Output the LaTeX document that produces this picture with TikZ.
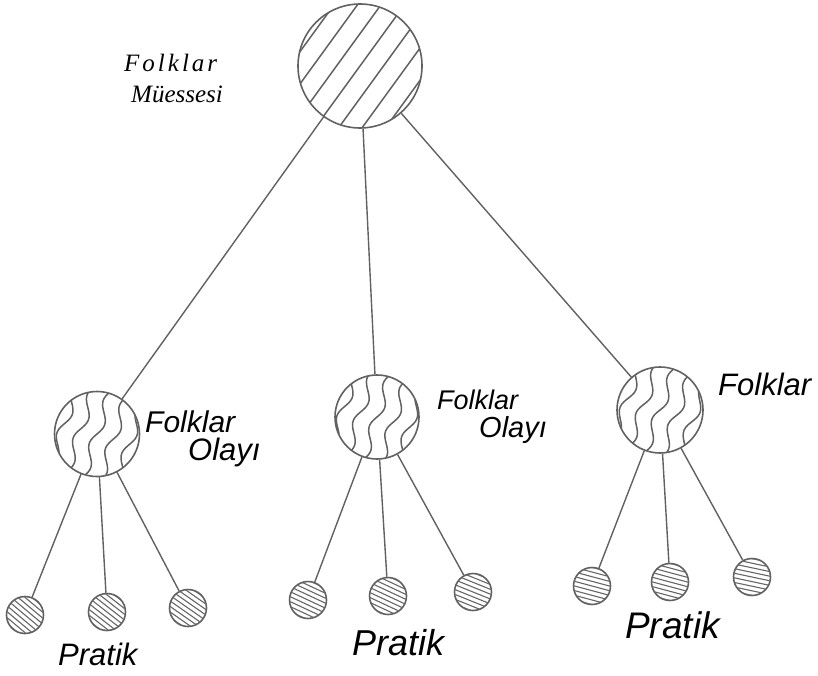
\documentclass[tikz,border=0pt]{standalone}
\usepackage{fontspec}
\setmainfont{Liberation Sans}
\newfontfamily\toplabelspaced[LetterSpace=12]{Liberation Serif}
\newfontfamily\toplabelplain{Liberation Serif}
\newcommand{\straighthatch}[5]{% node, radius, angle, spacing, count
  \begin{scope}
    \clip (#1) circle (#2pt);
    \begin{scope}[shift={(#1)}, rotate=#3]
      \foreach \i in {-#5,...,#5} \draw[hatch] (-#2,\i*#4) -- (#2,\i*#4);
    \end{scope}
  \end{scope}}
\newcommand{\finehatch}[4]{% node, radius, angle, spacing
  \begin{scope}
    \clip (#1) circle (#2pt);
    \begin{scope}[shift={(#1)}, rotate=#3]
      \foreach \i in {-5,...,5} \draw[fine] (-#2,\i*#4) -- (#2,\i*#4);
    \end{scope}
  \end{scope}}
\newcommand{\wavehatch}[4]{% node, radius, angle, spacing
  \begin{scope}
    \clip (#1) circle (#2pt);
    \begin{scope}[shift={(#1)}, rotate=#3]
      \foreach \i in {-4,...,4} \draw[hatch] plot[smooth, domain=-#2:#2, samples=30] (\x, {\i*#4 + 4.5*sin(\x*8)});
    \end{scope}
  \end{scope}}
\begin{document}
\begin{tikzpicture}[x=1pt,y=-1pt,
  ring/.style={circle, draw=black!62, line width=1.6pt, inner sep=0pt},
  hatch/.style={draw=black!62, line width=1.5pt},
  fine/.style={draw=black!60, line width=1.1pt},
  conn/.style={draw=black!62, line width=1.4pt},
  lab/.style={inner sep=0pt, anchor=base west}]
\useasboundingbox (0,0) rectangle (818,676);
% circles
\node[ring, minimum size=124pt] (top) at (360,66) {};
\node[ring, minimum size=85pt] (ml) at (97,434) {};
\node[ring, minimum size=84pt] (mm) at (377,417) {};
\node[ring, minimum size=86pt] (mr) at (660,410) {};
\node[ring, minimum size=37pt] (l1) at (25,615) {};
\node[ring, minimum size=37pt] (l2) at (107,612) {};
\node[ring, minimum size=37pt] (l3) at (188,608) {};
\node[ring, minimum size=37pt] (m1) at (308,600) {};
\node[ring, minimum size=37pt] (m2) at (388,596) {};
\node[ring, minimum size=37pt] (m3) at (473,592) {};
\node[ring, minimum size=37pt] (r1) at (592,586) {};
\node[ring, minimum size=37pt] (r2) at (670,582) {};
\node[ring, minimum size=37pt] (r3) at (752,577) {};
% hatching
\straighthatch{top}{62}{54}{19}{4}
\wavehatch{ml}{42}{72}{17}
\wavehatch{mm}{42}{72}{17}
\wavehatch{mr}{43}{70}{17}
\finehatch{l1}{18}{-40}{4.5}
\finehatch{l2}{18}{-38}{4.5}
\finehatch{l3}{18}{-35}{4.5}
\finehatch{m1}{18}{-25}{4.5}
\finehatch{m2}{18}{-25}{4.5}
\finehatch{m3}{18}{-22}{4.5}
\finehatch{r1}{18}{-15}{4.5}
\finehatch{r2}{18}{-15}{4.5}
\finehatch{r3}{18}{-12}{4.5}
% connectors
\draw[conn] (top) -- (ml);
\draw[conn] (top) -- (mm);
\draw[conn] (top) -- (mr);
\draw[conn] (ml) -- (l1);
\draw[conn] (ml) -- (l2);
\draw[conn] (ml) -- (l3);
\draw[conn] (mm) -- (m1);
\draw[conn] (mm) -- (m2);
\draw[conn] (mm) -- (m3);
\draw[conn] (mr) -- (r1);
\draw[conn] (mr) -- (r2);
\draw[conn] (mr) -- (r3);
% labels
\node[lab, font=\toplabelspaced\itshape\fontsize{25}{25}\selectfont] (tf) at (124,72) {Folklar};
\node[lab, font=\toplabelplain\itshape\fontsize{25}{25}\selectfont] (tm) at (131,103) {Müessesi};
\node[lab, font=\itshape\fontsize{30}{30}\selectfont] (lf) at (145,432) {Folklar};
\node[lab, font=\itshape\fontsize{31}{31}\selectfont] (lo) at (188,460) {Olayı};
\node[lab, font=\itshape\fontsize{27}{27}\selectfont] (mf) at (437,409) {Folklar};
\node[lab, font=\itshape\fontsize{29}{29}\selectfont] (mo) at (479,437) {Olayı};
\node[lab, font=\itshape\fontsize{31}{31}\selectfont] (rf) at (718,395) {Folklar};
\node[lab, font=\itshape\fontsize{31}{31}\selectfont] (lp) at (58,665) {Pratik};
\node[lab, font=\itshape\fontsize{36}{36}\selectfont] (mp) at (352,655) {Pratik};
\node[lab, font=\itshape\fontsize{37}{37}\selectfont] (rp) at (625,638) {Pratik};
\end{tikzpicture}
\end{document}
